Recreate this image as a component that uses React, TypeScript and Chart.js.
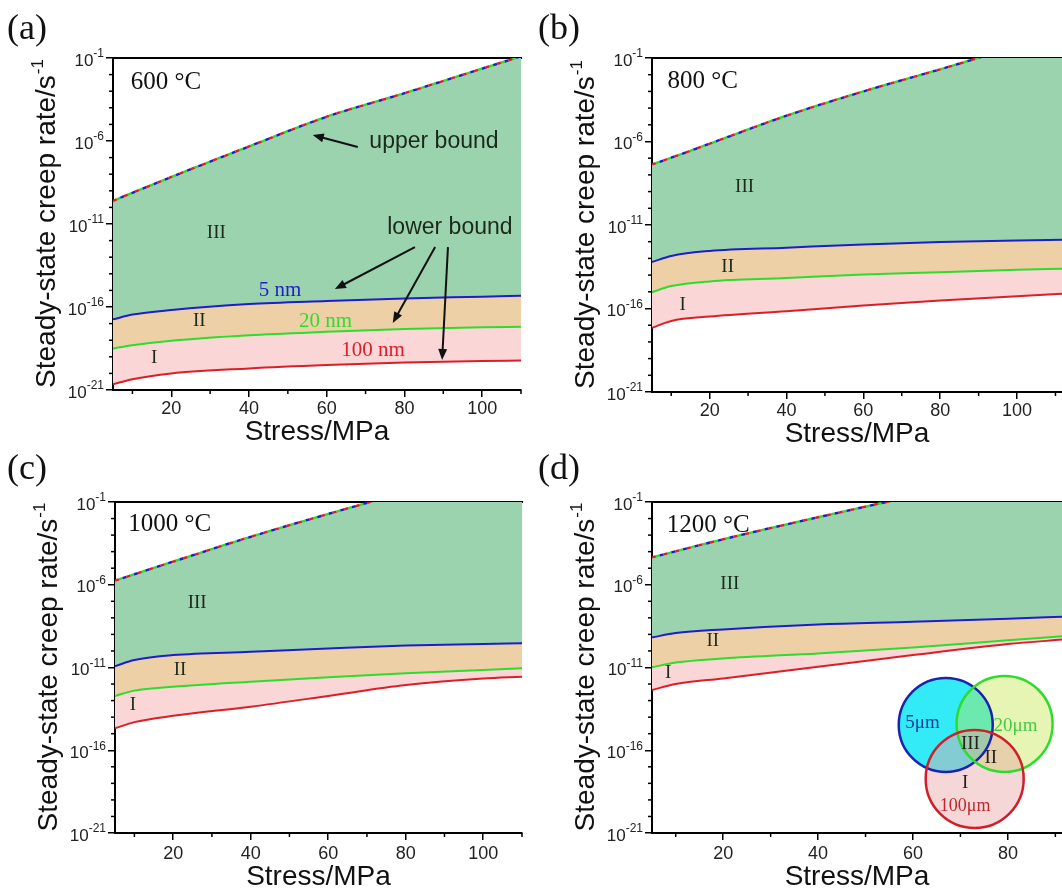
import React, { useEffect, useRef } from 'react';
import { Chart, registerables } from 'chart.js';
Chart.register(...registerables);

// ---------------- data ----------------
// (a) 600 °C
const stressA = [5, 10, 20, 40, 60, 80, 100, 110];
const upperA = [2.5e-10, 7.6e-10, 6.8e-9, 4.7e-7, 2.9e-5, 7.6e-4, 2.3e-2, 1.26e-1];
const nm5A = [1.8e-17, 3.5e-17, 6.6e-17, 1.5e-16, 2.3e-16, 3.3e-16, 4.2e-16, 4.8e-16];
const nm20A = [3.2e-19, 5.0e-19, 9.3e-19, 2.0e-18, 3.2e-18, 4.7e-18, 6.0e-18, 6.5e-18];
const nm100A = [2.2e-21, 4.5e-21, 1.0e-20, 2.0e-20, 3.2e-20, 4.5e-20, 5.6e-20, 5.9e-20];

// (b) 800 °C
const stressB = [5, 10, 20, 40, 60, 80, 100, 112];
const upperB = [4.2e-8, 1.07e-7, 7.4e-7, 3.5e-5, 1.0e-3, 2.1e-2, 0.45, 1.6];
const nm5B = [6.0e-14, 1.4e-13, 2.8e-13, 4.4e-13, 6.9e-13, 9.5e-13, 1.2e-12, 1.3e-12];
const nm20B = [9.5e-16, 2.2e-15, 4.2e-15, 6.6e-15, 1.1e-14, 1.5e-14, 2.1e-14, 2.4e-14];
const nm100B = [6.9e-18, 1.8e-17, 3.3e-17, 6.9e-17, 1.5e-16, 3.0e-16, 5.5e-16, 7.6e-16];

// (c) 1000 °C
const stressC = [5, 10, 20, 40, 60, 80, 100, 110];
const upperC = [1.8e-6, 4.3e-6, 2.5e-5, 7.9e-4, 1.9e-2, 0.4, 7.9, 31.6];
const nm5C = [1.2e-11, 2.8e-11, 5.6e-11, 8.9e-11, 1.4e-10, 2.1e-10, 2.6e-10, 2.9e-10];
const nm20C = [1.9e-13, 4.0e-13, 6.9e-13, 1.4e-12, 2.6e-12, 4.5e-12, 7.1e-12, 8.9e-12];
const nm100C = [2.1e-15, 5.0e-15, 1.2e-14, 4.3e-14, 1.9e-13, 8.7e-13, 2.2e-12, 2.8e-12];

// (d) 1200 °C
const stressD = [5, 10, 20, 40, 60, 80, 92];
const upperD = [4.5e-5, 1.05e-4, 5.6e-4, 1.2e-2, 0.22, 3.2, 12.6];
const nm5D = [6.6e-10, 1.2e-9, 2.0e-9, 4.0e-9, 5.8e-9, 8.9e-9, 1.2e-8];
const nm20D = [1.02e-11, 2.0e-11, 3.5e-11, 7.1e-11, 1.6e-10, 4.5e-10, 7.9e-10];
const nm100D = [4.4e-13, 1.0e-12, 2.2e-12, 1.1e-11, 5.6e-11, 2.6e-10, 5.0e-10];

// tick values
const xMajorTicks = [20, 40, 60, 80, 100];
const xMinorTicks = [10, 30, 50, 70, 90, 110];
const yMajorTicks = [1e-21, 1e-16, 1e-11, 1e-6, 1e-1];

// ---------------- styles ----------------
const SANS = "'Liberation Sans', Arial, sans-serif";
const SERIF = "'Liberation Serif', 'Times New Roman', serif";
const RED = '#dc1e28';
const GREEN = '#2edc2e';
const BLUE = '#1e1ec8';
const FILL_III = 'rgb(156, 211, 175)';
const FILL_II = 'rgb(238, 208, 166)';
const FILL_I = 'rgb(250, 214, 214)';

const pts = (xs: number[], ys: number[]) => xs.map((x, i) => ({ x, y: ys[i] }));

type Ann = { text: string; x: number; e: number; color?: string; font?: string; align?: CanvasTextAlign };

const decoPlugin = {
  id: 'deco',
  afterDraw(chart: any, _args: any, o: any) {
    const { ctx, chartArea: ca, scales } = chart;
    const xs = scales.x;
    const ys = scales.y;
    const px = (v: number) => xs.getPixelForValue(v);
    const py = (e: number) => ys.getPixelForValue(Math.pow(10, e));
    ctx.save();

    // minor ticks
    ctx.strokeStyle = '#000';
    ctx.lineWidth = 1.5;
    for (const v of o.xMinor) {
      const p = px(v);
      if (p < ca.left - 0.5 || p > ca.right + 0.5) continue;
      ctx.beginPath();
      ctx.moveTo(p, ca.bottom);
      ctx.lineTo(p, ca.bottom + 4);
      ctx.stroke();
    }
    for (let e = -20; e <= -2; e++) {
      if (e === -16 || e === -11 || e === -6) continue;
      const p = py(e);
      ctx.beginPath();
      ctx.moveTo(ca.left, p);
      ctx.lineTo(ca.left - 4, p);
      ctx.stroke();
    }

    // y tick labels 10^n
    ctx.fillStyle = '#222';
    ctx.textBaseline = 'middle';
    for (const v of yMajorTicks) {
      const e = Math.round(Math.log10(v));
      const p = ys.getPixelForValue(v);
      const right = ca.left - 9;
      ctx.font = `12px ${SANS}`;
      const sup = String(e);
      const ws = ctx.measureText(sup).width;
      ctx.font = `17px ${SANS}`;
      const wb = ctx.measureText('10').width;
      ctx.textAlign = 'left';
      ctx.fillText('10', right - ws - wb, p + 3);
      ctx.font = `12px ${SANS}`;
      ctx.fillText(sup, right - ws, p - 4);
    }

    // x axis title
    ctx.fillStyle = '#111';
    ctx.font = `28px ${SANS}`;
    ctx.textAlign = 'center';
    ctx.textBaseline = 'middle';
    ctx.fillText('Stress/MPa', (ca.left + ca.right) / 2, ca.bottom + o.xTitleGap);

    // y axis title (rotated) with superscript
    ctx.save();
    ctx.translate(ca.left - 68, (ca.top + ca.bottom) / 2);
    ctx.rotate(-Math.PI / 2);
    const main = 'Steady-state creep rate/s';
    ctx.font = `28px ${SANS}`;
    const wm = ctx.measureText(main).width;
    ctx.font = `17px ${SANS}`;
    const wsup = ctx.measureText('-1').width;
    const start = -(wm + wsup) / 2;
    ctx.textAlign = 'left';
    ctx.textBaseline = 'alphabetic';
    ctx.font = `28px ${SANS}`;
    ctx.fillText(main, start, 10);
    ctx.font = `17px ${SANS}`;
    ctx.fillText('-1', start + wm + 1, -2);
    ctx.restore();

    // panel letter
    ctx.fillStyle = '#111';
    ctx.font = `36px ${SERIF}`;
    ctx.textAlign = 'left';
    ctx.textBaseline = 'top';
    ctx.fillText(o.panel, 7, 12);

    // clip annotations to the plot area
    ctx.save();
    ctx.beginPath();
    ctx.rect(ca.left, ca.top, ca.right - ca.left, ca.bottom - ca.top);
    ctx.clip();

    // venn inset
    if (o.venn) {
      const circles = o.venn.circles;
      for (const c of circles) {
        ctx.beginPath();
        ctx.arc(px(c.x), py(c.e), c.r, 0, Math.PI * 2);
        ctx.fillStyle = c.fill;
        ctx.fill();
      }
      for (const c of circles) {
        ctx.beginPath();
        ctx.arc(px(c.x), py(c.e), c.r, 0, Math.PI * 2);
        ctx.strokeStyle = c.stroke;
        ctx.lineWidth = 2.5;
        ctx.stroke();
      }
    }

    // annotations
    const drawAnn = (a: Ann) => {
      ctx.fillStyle = a.color || '#1c2a1c';
      ctx.font = a.font || `19px ${SERIF}`;
      ctx.textAlign = a.align || 'center';
      ctx.textBaseline = 'middle';
      ctx.fillText(a.text, px(a.x), py(a.e));
    };
    o.anns.forEach(drawAnn);

    // arrows
    ctx.strokeStyle = '#111';
    ctx.fillStyle = '#111';
    for (const ar of o.arrows) {
      const x1 = px(ar[0]), y1 = py(ar[1]), x2 = px(ar[2]), y2 = py(ar[3]);
      const ang = Math.atan2(y2 - y1, x2 - x1);
      const hl = 11, hw = 4.5;
      const c = Math.cos(ang), s = Math.sin(ang);
      ctx.lineWidth = 2;
      ctx.beginPath();
      ctx.moveTo(x1, y1);
      ctx.lineTo(x2 - c * hl * 0.7, y2 - s * hl * 0.7);
      ctx.stroke();
      ctx.beginPath();
      ctx.moveTo(x2, y2);
      ctx.lineTo(x2 - hl * c + hw * s, y2 - hl * s - hw * c);
      ctx.lineTo(x2 - hl * c - hw * s, y2 - hl * s + hw * c);
      ctx.closePath();
      ctx.fill();
    }
    ctx.restore();

    ctx.restore();
  },
};

type Spec = {
  left: number; top: number; w: number; h: number;
  l: number; t: number; r: number; b: number;
  xMax: number; xTicks: number[];
  stress: number[]; upper: number[]; nm5: number[]; nm20: number[]; nm100: number[];
  panel: string; anns: Ann[]; arrows: number[][]; venn?: any; xTitleGap: number; tickPad: number;
};

const tempFont = `25px ${SERIF}`;
const nmFont = `21px ${SERIF}`;
const boundFont = `23px ${SANS}`;

const specs: Spec[] = [
  {
    left: 0, top: 0, w: 531, h: 455, l: 113, t: 58, r: 521, b: 390,
    xMax: 110, xTicks: xMajorTicks,
    stress: stressA, upper: upperA, nm5: nm5A, nm20: nm20A, nm100: nm100A,
    panel: '(a)', xTitleGap: 42, tickPad: 1,
    anns: [
      { text: '600 °C', x: 9.6, e: -2.48, color: '#111', font: tempFont, align: 'left' },
      { text: 'III', x: 31.6, e: -11.54 },
      { text: 'II', x: 27.2, e: -16.84 },
      { text: 'I', x: 15.6, e: -19.07 },
      { text: '5 nm', x: 48.0, e: -14.98, color: BLUE, font: nmFont },
      { text: '20 nm', x: 59.7, e: -16.9, color: GREEN, font: nmFont },
      { text: '100 nm', x: 71.9, e: -18.59, color: RED, font: nmFont },
      { text: 'upper bound', x: 87.6, e: -6.06, color: '#1a2a1a', font: boundFont },
      { text: 'lower bound', x: 91.7, e: -11.24, color: '#1a2a1a', font: boundFont },
    ],
    arrows: [
      [68.0, -6.36, 56.4, -5.64],
      [82.7, -12.39, 62.1, -14.92],
      [87.9, -12.39, 77.0, -16.96],
      [91.2, -12.39, 89.7, -19.19],
    ],
  },
  {
    left: 531, top: 0, w: 531, h: 455, l: 121, t: 58, r: 531, b: 392,
    xMax: 111.7, xTicks: xMajorTicks,
    stress: stressB, upper: upperB, nm5: nm5B, nm20: nm20B, nm100: nm100B,
    panel: '(b)', xTitleGap: 42, tickPad: 1,
    anns: [
      { text: '800 °C', x: 9.06, e: -2.38, color: '#111', font: tempFont, align: 'left' },
      { text: 'III', x: 29.1, e: -8.72 },
      { text: 'II', x: 24.7, e: -13.51 },
      { text: 'I', x: 13.0, e: -15.79 },
    ],
    arrows: [],
  },
  {
    left: 0, top: 440, w: 531, h: 455, l: 115, t: 62, r: 522, b: 393,
    xMax: 110, xTicks: xMajorTicks,
    stress: stressC, upper: upperC, nm5: nm5C, nm20: nm20C, nm100: nm100C,
    panel: '(c)', xTitleGap: 44, tickPad: 3,
    anns: [
      { text: '1000 °C', x: 8.4, e: -2.34, color: '#111', font: tempFont, align: 'left' },
      { text: 'III', x: 26.2, e: -7.11 },
      { text: 'II', x: 21.8, e: -11.15 },
      { text: 'I', x: 9.6, e: -13.26 },
    ],
    arrows: [],
  },
  {
    left: 531, top: 440, w: 531, h: 455, l: 121, t: 62, r: 531, b: 393,
    xMax: 91.4, xTicks: [20, 40, 60, 80],
    stress: stressD, upper: upperD, nm5: nm5D, nm20: nm20D, nm100: nm100D,
    panel: '(d)', xTitleGap: 44, tickPad: 3,
    anns: [
      { text: '1200 °C', x: 8.1, e: -2.41, color: '#111', font: tempFont, align: 'left' },
      { text: 'III', x: 21.4, e: -5.96 },
      { text: 'II', x: 17.8, e: -9.40 },
      { text: 'I', x: 8.4, e: -11.33 },
      { text: '5μm', x: 62.0, e: -14.35, color: '#1e3a9a', font: `19px ${SERIF}` },
      { text: '20μm', x: 81.6, e: -14.53, color: '#44cc44', font: `19px ${SERIF}` },
      { text: 'III', x: 72.1, e: -15.6, color: '#222', font: `19px ${SERIF}` },
      { text: 'II', x: 76.4, e: -16.46, color: '#222', font: `19px ${SERIF}` },
      { text: 'I', x: 71.0, e: -17.96, color: '#222', font: `19px ${SERIF}` },
      { text: '100μm', x: 71.0, e: -19.4, color: '#c0282e', font: `18px ${SERIF}` },
    ],
    arrows: [],
    venn: {
      circles: [
        { x: 66.9, e: -14.47, r: 47, fill: 'rgba(0, 230, 245, 0.8)', stroke: '#1a22b0' },
        { x: 79.3, e: -14.41, r: 48, fill: 'rgba(192, 230, 67, 0.4)', stroke: '#2edc2e' },
        { x: 73.0, e: -17.73, r: 49, fill: 'rgba(232, 164, 164, 0.44)', stroke: '#d21e2a' },
      ],
    },
  },
];

function buildConfig(s: Spec): any {
  const dash = (color: string, off: number) => ({
    data: pts(s.stress, s.upper), borderColor: color, borderWidth: 2.4,
    borderDash: [4, 8], borderDashOffset: off, fill: false,
  });
  return {
    type: 'line',
    data: {
      datasets: [
        dash(RED, 0),
        dash(BLUE, 4),
        dash(GREEN, 8),
        { label: '100 nm', data: pts(s.stress, s.nm100), borderColor: RED, borderWidth: 2, fill: false },
        { label: '20 nm', data: pts(s.stress, s.nm20), borderColor: GREEN, borderWidth: 2, fill: '-1', backgroundColor: FILL_I },
        { label: '5 nm', data: pts(s.stress, s.nm5), borderColor: BLUE, borderWidth: 2, fill: '-1', backgroundColor: FILL_II },
        { label: 'III', data: pts(s.stress, s.upper), borderColor: 'rgba(0,0,0,0)', borderWidth: 0, fill: '-1', backgroundColor: FILL_III },
      ],
    },
    options: {
      responsive: false,
      animation: false,
      events: [],
      layout: { padding: { left: 0, top: 0, right: s.w - s.r, bottom: 0 }, autoPadding: false },
      elements: { point: { radius: 0 }, line: { cubicInterpolationMode: 'monotone' } },
      plugins: {
        legend: { display: false },
        tooltip: { enabled: false },
        deco: { panel: s.panel, anns: s.anns, arrows: s.arrows, venn: s.venn, xMinor: xMinorTicks, xTitleGap: s.xTitleGap },
      },
      scales: {
        x: {
          type: 'linear', position: 'bottom', min: 5, max: s.xMax,
          afterFit: (sc: any) => { sc.height = s.h - s.b; },
          afterBuildTicks: (sc: any) => { sc.ticks = s.xTicks.map((v) => ({ value: v })); },
          grid: { display: true, drawOnChartArea: false, drawTicks: true, tickLength: 7, color: '#000', lineWidth: 1.5 },
          border: { display: true, color: '#000', width: 2 },
          ticks: { font: { family: SANS, size: 18 }, color: '#222', padding: s.tickPad, maxRotation: 0, autoSkip: false },
        },
        x2: {
          type: 'linear', position: 'top', min: 5, max: s.xMax,
          afterFit: (sc: any) => { sc.height = s.t; },
          grid: { display: false },
          border: { display: true, color: '#000', width: 2 },
          ticks: { display: false },
        },
        y: {
          type: 'logarithmic', position: 'left', min: 1e-21, max: 1e-1,
          afterFit: (sc: any) => { sc.width = s.l; },
          afterBuildTicks: (sc: any) => { sc.ticks = yMajorTicks.map((v) => ({ value: v })); },
          grid: { display: true, drawOnChartArea: false, drawTicks: true, tickLength: 7, color: '#000', lineWidth: 1.5 },
          border: { display: true, color: '#000', width: 2 },
          ticks: { display: false },
        },
      },
    },
    plugins: [decoPlugin],
  };
}

function Panel({ spec }: { spec: Spec }) {
  const ref = useRef<HTMLCanvasElement>(null);
  useEffect(() => {
    const chart = new Chart(ref.current as HTMLCanvasElement, buildConfig(spec));
    return () => chart.destroy();
  }, [spec]);
  return (
    <canvas
      ref={ref}
      width={spec.w}
      height={spec.h}
      style={{ position: 'absolute', left: spec.left, top: spec.top, width: spec.w, height: spec.h }}
    />
  );
}

export default function App() {
  return (
    <div style={{ position: 'absolute', left: 0, top: 0, width: 1062, height: 895, background: '#fff', overflow: 'hidden' }}>
      {specs.map((s) => (
        <Panel key={s.panel} spec={s} />
      ))}
    </div>
  );
}
